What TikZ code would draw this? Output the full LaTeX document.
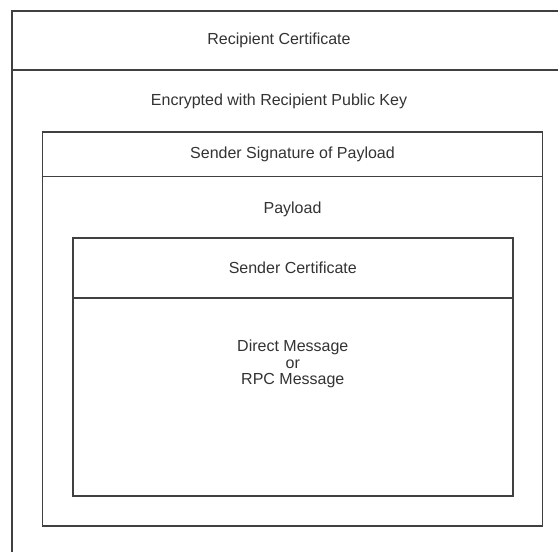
\documentclass[tikz,border=0pt]{standalone}
\usepackage{fontspec}
\setmainfont{Liberation Sans}
\definecolor{edge}{HTML}{404040}
\definecolor{inktext}{HTML}{333333}
\tikzset{
  layer/.style = {rectangle, draw=edge, line width=1.2pt, inner sep=0pt,
                  anchor=north west},
  divider/.style = {draw=edge, line width=1.2pt},
  lbl/.style = {font=\fontsize{12}{12.6}\selectfont, text=inktext,
                align=center, inner sep=0pt}
}
\begin{document}
\begin{tikzpicture}[x=0.75pt,y=-0.75pt]
  \clip (0,0) rectangle (558,552);
  \fill[white] (0,0) rectangle (558,552);

  % outer layer, runs past the page on the right and bottom
  \node[layer, minimum width=419pt, minimum height=443pt] (recip) at (11,10) {};
  \draw[divider] (11,70) coordinate (rsplit) -- (570,70);
  \node[lbl] (recipcert) at (279,40) {Recipient Certificate};
  \node[lbl] (encrypt) at (279,101) {Encrypted with Recipient Public Key};

  % signed payload
  \node[layer, minimum width=375pt, minimum height=295.5pt] (signed) at (41.7,131) {};
  \draw[divider] (signed.west|-0,176.7) -- (signed.east|-0,176.7);
  \node[lbl] (sig) at (signed.north|-0,154) {Sender Signature of Payload};
  \node[lbl] (payload) at (signed.north|-0,209) {Payload};

  % message
  \node[layer, minimum width=330pt, minimum height=193.5pt] (msg) at (72,237) {};
  \draw[divider] (msg.west|-0,298) -- (msg.east|-0,298);
  \node[lbl] (sendcert) at (msg.north|-0,268) {Sender Certificate};
  \node[lbl] (body) at (msg.north|-0,364) {Direct Message\\or\\RPC Message};
\end{tikzpicture}
\end{document}
